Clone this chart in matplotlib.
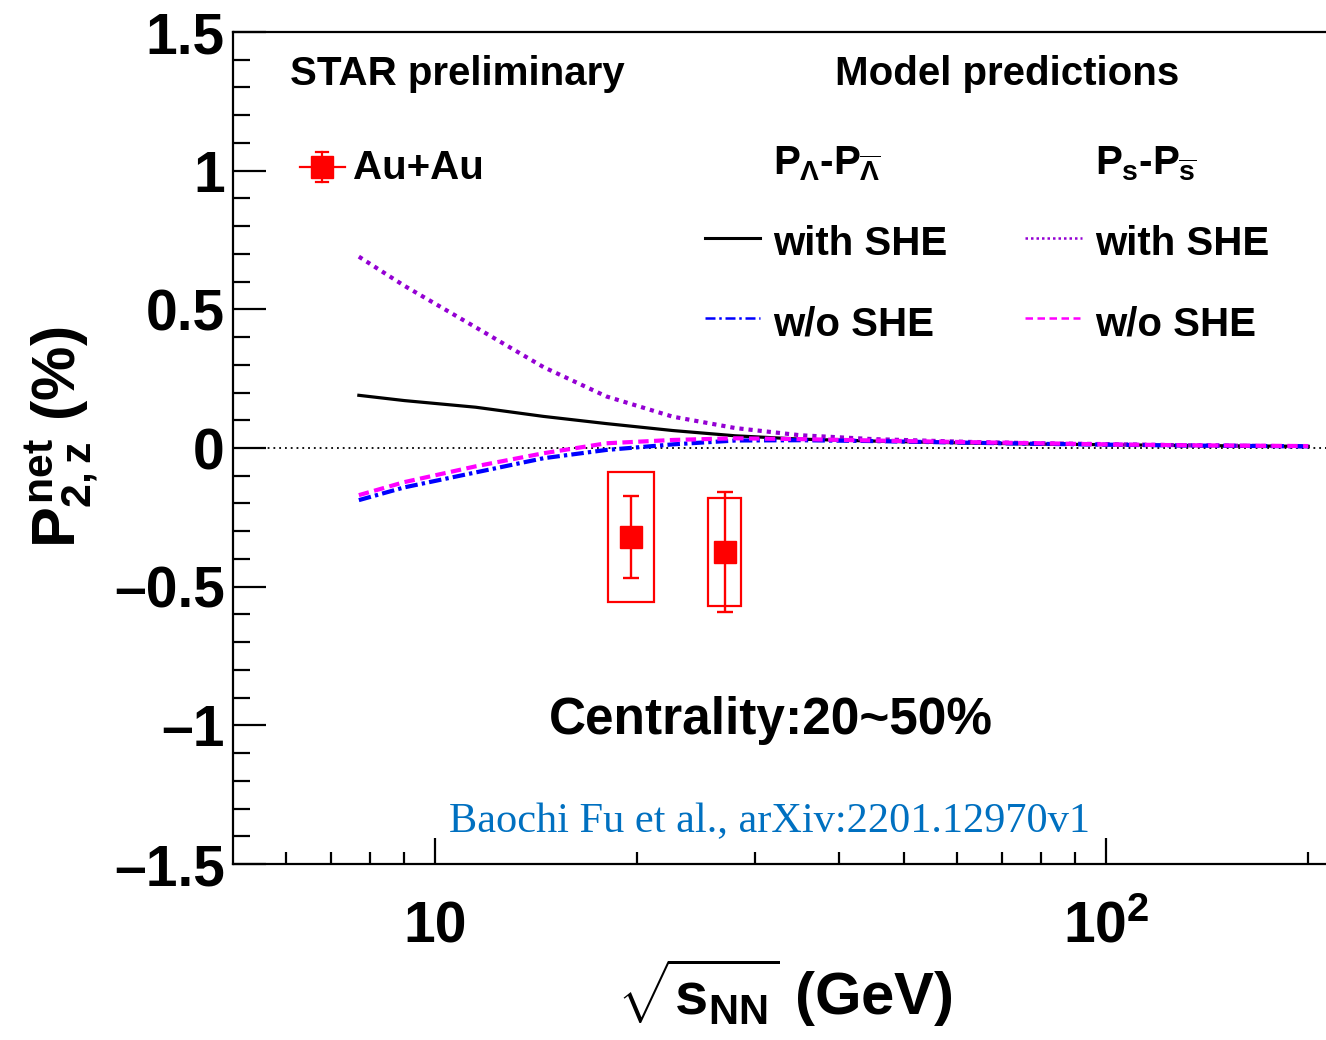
import numpy as np
import matplotlib
matplotlib.use("Agg")
import matplotlib.pyplot as plt
from matplotlib.lines import Line2D
from matplotlib.patches import Rectangle
from matplotlib.ticker import FixedLocator, MultipleLocator, NullFormatter, FixedFormatter

plt.rcParams['font.family'] = ['Liberation Sans', 'DejaVu Sans']
plt.rcParams['font.weight'] = 'bold'
plt.rcParams['mathtext.fontset'] = 'custom'
plt.rcParams['mathtext.rm'] = 'Liberation Sans:bold'
plt.rcParams['mathtext.it'] = 'Liberation Sans:bold'
plt.rcParams['mathtext.bf'] = 'Liberation Sans:bold'

# model curves
energy = [7.7, 9.0, 11.5, 14.5, 18.0, 22.6, 28.0, 35.0, 45.0, 62.4, 80.0, 100.0, 130.0, 200.0]
lam_she = [0.19, 0.171, 0.147, 0.114, 0.088, 0.063, 0.044, 0.032, 0.025, 0.018, 0.014, 0.012, 0.009, 0.006]
lam_noshe = [-0.188, -0.142, -0.088, -0.037, -0.007, 0.013, 0.027, 0.028, 0.025, 0.019, 0.015, 0.012, 0.009, 0.006]
s_she = [0.69, 0.585, 0.435, 0.292, 0.186, 0.113, 0.072, 0.046, 0.032, 0.022, 0.017, 0.014, 0.010, 0.006]
s_noshe = [-0.17, -0.123, -0.066, -0.019, 0.017, 0.029, 0.035, 0.032, 0.027, 0.021, 0.017, 0.013, 0.010, 0.007]

# STAR preliminary points
star_e = [19.6, 27.0]
star_p = [-0.321, -0.375]
star_stat = [0.148, 0.217]
star_sys = [0.233, 0.195]

W, H = 1326, 1040
fig = plt.figure(figsize=(W / 100, H / 100), dpi=100)

def px(x, y):
    return x / W, 1 - y / H

ax = fig.add_axes([233 / W, 1 - 864 / H, (1336 - 233) / W, (864 - 32) / H])
ax.set_xscale('log')
ax.set_xlim(5, 220)
ax.set_ylim(-1.5, 1.5)

ax.axhline(0, color='black', lw=1.3, ls=(0, (1, 2.2)), zorder=1)

ax.plot(energy, lam_she, color='black', lw=2.3, zorder=3)
ax.plot(energy, s_she, color='#9400D3', lw=3, ls=(0, (1, 1.2)), zorder=3)
ax.plot(energy, lam_noshe, color='#0000FF', lw=3, ls=(0, (3, 1, 0.8, 1)), zorder=3)
ax.plot(energy, s_noshe, color='#FF00FF', lw=3, ls=(0, (2.5, 1.3)), zorder=4)

# systematic boxes
halfw = [0.034, 0.025]
for e, p, s, hw in zip(star_e, star_p, star_sys, halfw):
    x0 = e * 10 ** (-hw)
    x1 = e * 10 ** (hw)
    ax.add_patch(Rectangle((x0, p - s), x1 - x0, 2 * s, fill=False,
                           edgecolor='red', lw=1.6, zorder=5))
ax.errorbar(star_e, star_p, yerr=star_stat, fmt='s', color='red', ms=16.5,
            elinewidth=1.7, capsize=6, capthick=1.7, zorder=6)

# axes style
for side in ['top', 'bottom', 'left']:
    ax.spines[side].set_linewidth(1.6)
ax.spines['right'].set_visible(False)
ax.xaxis.set_major_locator(FixedLocator([10, 100]))
ax.xaxis.set_major_formatter(FixedFormatter(['10', r'$10^{2}$']))
ax.xaxis.set_minor_locator(FixedLocator([6, 7, 8, 9, 20, 30, 40, 50, 60, 70, 80, 90, 200]))
ax.xaxis.set_minor_formatter(NullFormatter())
ax.yaxis.set_major_locator(FixedLocator([-1.5, -1, -0.5, 0, 0.5, 1, 1.5]))
ax.yaxis.set_major_formatter(FixedFormatter(['\u20131.5', '\u20131', '\u20130.5', '0', '0.5', '1', '1.5']))
ax.yaxis.set_minor_locator(MultipleLocator(0.1))
ax.tick_params(which='both', direction='in', top=False, right=False, width=1.6)
ax.tick_params(axis='x', which='major', length=19, pad=26, labelsize=41)
ax.tick_params(axis='x', which='minor', length=9)
ax.tick_params(axis='y', which='major', length=24, pad=6, labelsize=41)
ax.tick_params(axis='y', which='minor', length=12)

# axis titles
fig.text(*px(785, 1015), r'$\sqrt{s_{NN}}$ (GeV)', fontsize=43, ha='center', va='baseline')
fig.text(*px(62, 437), r'$P^{net}_{2,z}$ (%)', fontsize=44, ha='center', va='center',
         rotation=90)

# annotations
fs = 29
fig.text(*px(290, 85), 'STAR preliminary', fontsize=fs, ha='left', va='baseline')
fig.text(*px(835, 85), 'Model predictions', fontsize=fs, ha='left', va='baseline')
fig.text(*px(353, 179), 'Au+Au', fontsize=fs, ha='left', va='baseline')
fig.text(*px(773, 174), r'$P_{\Lambda}$-$P_{\overline{\Lambda}}$', fontsize=fs, ha='left', va='baseline')
fig.text(*px(1095, 174), r'$P_{s}$-$P_{\overline{s}}$', fontsize=fs, ha='left', va='baseline')
fig.text(*px(773, 255), 'with SHE', fontsize=fs, ha='left', va='baseline')
fig.text(*px(773, 335), 'w/o SHE', fontsize=fs, ha='left', va='baseline')
fig.text(*px(1095, 255), 'with SHE', fontsize=fs, ha='left', va='baseline')
fig.text(*px(1095, 335), 'w/o SHE', fontsize=fs, ha='left', va='baseline')
fig.text(*px(549, 734), 'Centrality:20~50%', fontsize=37, ha='left', va='baseline')
fig.text(*px(449, 832), 'Baochi Fu et al., arXiv:2201.12970v1', fontsize=30.5,
         family=['Liberation Serif'], weight='normal', color='#0070C0', ha='left', va='baseline')

# legend samples
def seg(x0, x1, y, **kw):
    (a, b), (c, d) = px(x0, y), px(x1, y)
    fig.add_artist(Line2D([a, c], [b, d], **kw))

seg(705, 760, 238, color='black', lw=2.2)
seg(705, 760, 318, color='#0000FF', lw=1.8, ls=(0, (4, 1.5, 1, 1.5)))
seg(1025, 1082, 238, color='#9400D3', lw=1.8, ls=(0, (1, 1.2)))
seg(1025, 1080, 318, color='#FF00FF', lw=1.8, ls=(0, (3, 1.8)))

# Au+Au legend marker
seg(300, 345, 167, color='red', lw=1.6)
a, b = px(322, 152)
c, d = px(322, 182)
fig.add_artist(Line2D([a, c], [b, d], color='red', lw=1.6))
seg(316, 328, 152, color='red', lw=1.6)
seg(316, 328, 182, color='red', lw=1.6)
a, b = px(322, 167)
fig.add_artist(Line2D([a], [b], marker='s', ms=16, color='red'))

fig.savefig('out.png', dpi=100)
